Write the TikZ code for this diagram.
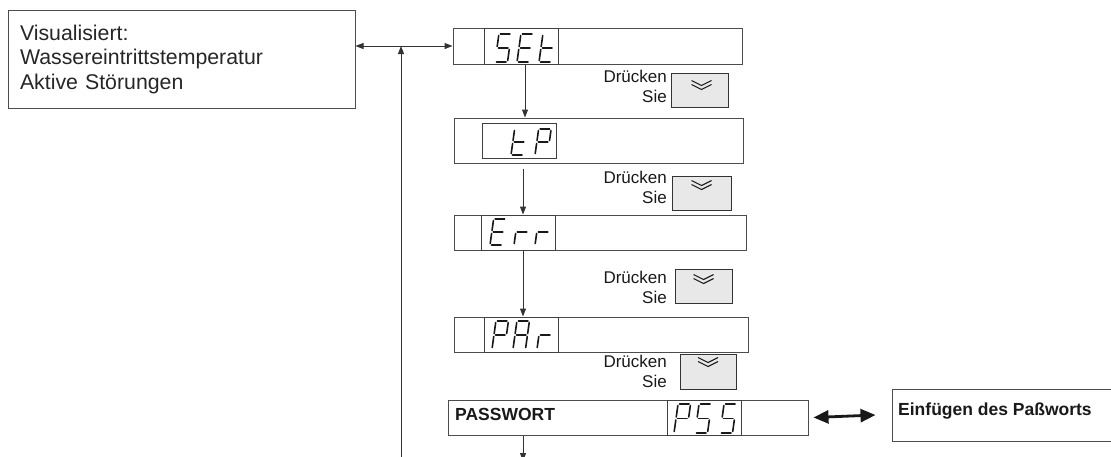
\documentclass[tikz,border=0pt]{standalone}
\usepackage{fontspec}
\setmainfont{Liberation Sans}
\usetikzlibrary{arrows.meta}
\newcommand{\sgW}{12.5}
\newcommand{\sgA}{\draw[seg] (1.5,-\sgH) -- (\sgW-1.5,-\sgH);}
\newcommand{\sgB}{\draw[seg] (\sgW,-\sgH+1.5) -- (\sgW,-\sgM-1.5);}
\newcommand{\sgC}{\draw[seg] (\sgW,-\sgM+1.5) -- (\sgW,-1.5);}
\newcommand{\sgD}{\draw[seg] (1.5,0) -- (\sgW-1.5,0);}
\newcommand{\sgE}{\draw[seg] (0,-\sgM+1.5) -- (0,-1.5);}
\newcommand{\sgF}{\draw[seg] (0,-\sgH+1.5) -- (0,-\sgM-1.5);}
\newcommand{\sgG}{\draw[seg] (1.5,-\sgM) -- (\sgW-1.5,-\sgM);}
\newcommand{\glS}{\sgA\sgF\sgG\sgC\sgD}
\newcommand{\glE}{\sgA\sgF\sgG\sgE\sgD}
\newcommand{\glt}{\sgF\sgE\sgG\sgD}
\newcommand{\glP}{\sgA\sgB\sgF\sgG\sgE}
\newcommand{\glr}{\sgG\sgE}
\newcommand{\glA}{\sgA\sgB\sgC\sgE\sgF\sgG}
\newcommand{\segdigit}[4]{%
  \begin{scope}[shift={(#1,#2)},xslant=0.14]
    \def\sgH{#3}%
    \pgfmathsetmacro{\sgM}{#3/2}%
    #4
  \end{scope}}
\newcommand{\chevron}[3]{%
  \draw[chev] ([xshift=#2pt-10pt,yshift=-#3pt]#1.north) -- ([xshift=#2pt,yshift=-#3pt-5pt]#1.north) -- ([xshift=#2pt+10pt,yshift=-#3pt]#1.north);
  \draw[chev] ([xshift=#2pt-10pt,yshift=-#3pt-4pt]#1.north) -- ([xshift=#2pt,yshift=-#3pt-9pt]#1.north) -- ([xshift=#2pt+10pt,yshift=-#3pt-4pt]#1.north);}
\tikzset{
  rect/.style={draw=black!70, line width=1pt, inner sep=0pt},
  disp/.style={draw=black!75, line width=1pt, inner sep=0pt, minimum width=74pt, minimum height=35pt},
  btn/.style={draw=black!80, fill=black!9, line width=1pt, inner sep=0pt},
  seg/.style={line width=1.6pt, line cap=round, black!90},
  chev/.style={line width=1.1pt, black!90},
  press/.style={font=\fontsize{17}{19.5}\selectfont, align=right, inner sep=0pt, anchor=north east, text=black!90},
  boldtxt/.style={font=\bfseries\fontsize{17.5}{20}\selectfont, inner sep=0pt, anchor=base west, text=black!90},
  conn/.style={draw=black!80, line width=1pt},
  arr/.style={conn, -{Triangle[length=8pt,width=6pt]}},
  dblarr/.style={conn, {Triangle[length=8pt,width=6pt]}-{Triangle[length=8pt,width=6pt]}},
  bigarr/.style={draw=black!90, line width=2.8pt, {Triangle[length=15pt,width=13pt]}-{Triangle[length=15pt,width=13pt]}}
}
\begin{document}
\begin{tikzpicture}[x=1pt,y=-1pt]
\useasboundingbox (0,0) rectangle (1111,456);
% left info box
\node[rect, minimum width=347pt, minimum height=98pt, text width=323pt, inner xsep=12pt, align=left,
      font=\fontsize{21.3}{24.5}\selectfont, text=black!85] (leftbox) at (181.5,59)
  {Visualisiert:\\Wassereintrittstemperatur\\Aktive Störungen};
% menu boxes
\node[rect, minimum width=289pt, minimum height=36pt] (setbox) at (597.5,46) {};
\node[disp, minimum height=36pt] (setdisp) at (521,46) {};
\node[rect, minimum width=289pt, minimum height=45pt] (tpbox) at (598.5,140.5) {};
\node[disp] (tpdisp) at (519,140.5) {};
\node[rect, minimum width=292pt, minimum height=35pt] (errbox) at (600,232.5) {};
\node[disp] (errdisp) at (518,232.5) {};
\node[rect, minimum width=294pt, minimum height=35pt] (parbox) at (601,334.5) {};
\node[disp] (pardisp) at (521,334.5) {};
\node[rect, minimum width=360pt, minimum height=35pt] (pwbox) at (628,417.5) {};
\node[disp] (pwdisp) at (704,417.5) {};
\node[boldtxt] (pwtext) at (455,420) {PASSWORT};
\node[rect, minimum width=230pt, minimum height=52pt] (einbox) at (1007,415) {};
\node[boldtxt] (eintext) at (898,415) {Einfügen des Paßworts};
% seven segment texts
\segdigit{495}{62}{28}{\glS}
\segdigit{517}{62}{28}{\glE}
\segdigit{539}{62}{28}{\glt}
\segdigit{511}{155}{26}{\glt}
\segdigit{535}{155}{26}{\glP}
\segdigit{490}{245}{26}{\glE}
\segdigit{514}{245}{26}{\glr}
\segdigit{535}{245}{26}{\glr}
\segdigit{492}{349}{28}{\glP}
\segdigit{513}{349}{28}{\glA}
\segdigit{537}{349}{28}{\glr}
\segdigit{674}{433}{29}{\glP}
\segdigit{695}{433}{29}{\glS}
\segdigit{720}{433}{29}{\glS}
% buttons
\node[btn, minimum width=57pt, minimum height=34pt] (b1) at (699.5,90) {};
\node[btn, minimum width=59pt, minimum height=34pt] (b2) at (701.5,193) {};
\node[btn, minimum width=57pt, minimum height=34pt] (b3) at (703.5,286) {};
\node[btn, minimum width=56pt, minimum height=35pt] (b4) at (708,371.5) {};
\chevron{b1}{2}{8}
\chevron{b2}{0}{5}
\chevron{b3}{0}{6}
\chevron{b4}{0}{4}
\node[press] (p1) at (667,70) {Drücken\\Sie};
\node[press] (p2) at (667,171) {Drücken\\Sie};
\node[press] (p3) at (667,271) {Drücken\\Sie};
\node[press] (p4) at (667,355) {Drücken\\Sie};
% connectors
\draw[dblarr] (setbox.west -| leftbox.east) -- (setbox.west);
\coordinate (loopstart) at (401,470);
\draw[arr] (loopstart) -- (loopstart |- setbox.west);
\draw[arr] ([xshift=4pt]setdisp.south) -- ([xshift=4pt]setdisp.south |- tpbox.north);
\draw[arr] ([xshift=4pt,yshift=-10pt]tpdisp.south) -- ([xshift=5pt]errdisp.north);
\draw[arr] ([xshift=5pt]errdisp.south) -- ([xshift=2pt]pardisp.north);
\coordinate (pwend) at (523,461);
\draw[arr] (pwend |- pwbox.south) -- (pwend);
\draw[bigarr] ([xshift=5pt]pwbox.east) -- ([xshift=-16pt]einbox.west);
\end{tikzpicture}
\end{document}
